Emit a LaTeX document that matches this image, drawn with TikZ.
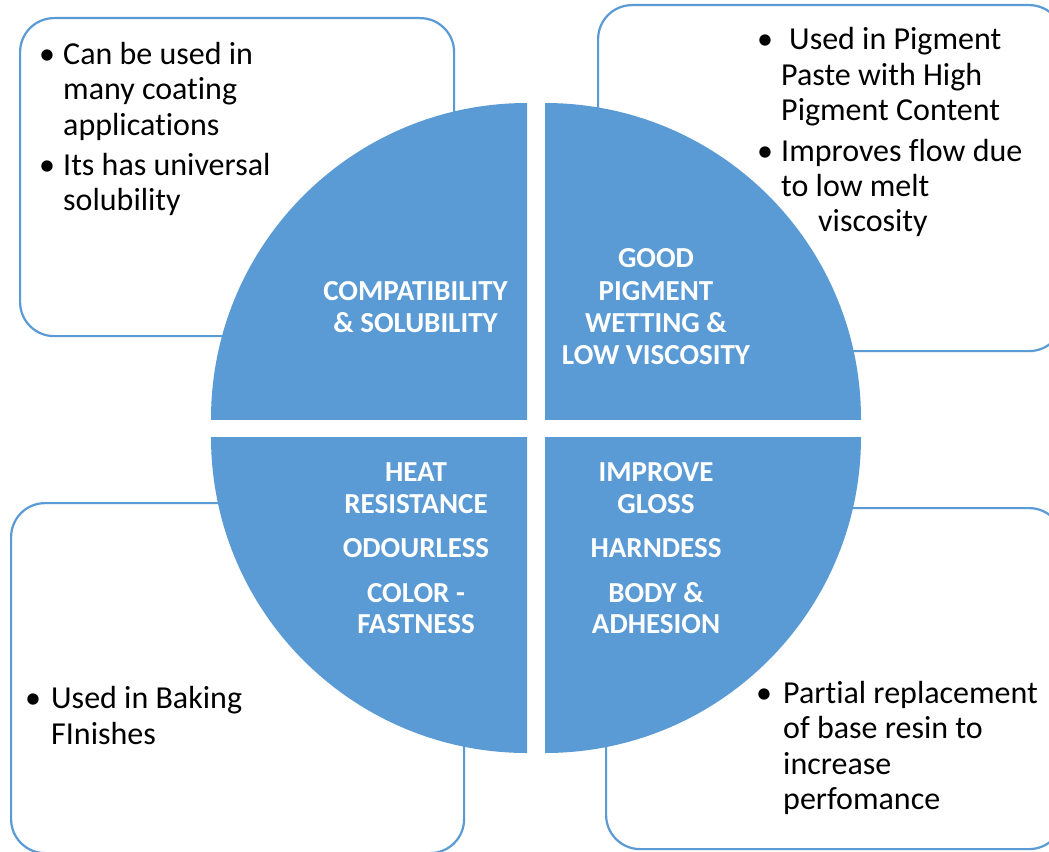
\documentclass[tikz,border=0pt]{standalone}
\usepackage{fontspec}
\setmainfont[Ligatures=NoCommon]{Carlito}
\definecolor{accent}{HTML}{5B9BD5}
\tikzset{
  box/.style={draw=accent, line width=2.2pt, fill=white, rounded corners=34pt, inner sep=0pt, anchor=north west},
  body/.style={font=\fontsize{32}{35}\selectfont, anchor=base west, inner sep=0pt, text=black},
  bul/.style={font=\fontsize{32}{35}\selectfont, anchor=base, inner sep=0pt, text=black},
  lab/.style={font=\bfseries\fontsize{29}{32}\selectfont, text=white, anchor=base, inner sep=0pt},
  quad/.style={fill=accent}
}
\begin{document}
\begin{tikzpicture}[x=1pt,y=-1pt]
\useasboundingbox (0,0) rectangle (1049,851);
\clip (0,0) rectangle (1049,851);
\fill[white] (0,0) rectangle (1049,851);

% outer boxes
\node[box, minimum width=434pt, minimum height=318pt] (boxTL) at (19,17) {};
\node[box, minimum width=465pt, minimum height=346pt] (boxTR) at (597,4) {};
\node[box, minimum width=453pt, minimum height=350pt] (boxBL) at (10,502) {};
\node[box, minimum width=457pt, minimum height=341pt] (boxBR) at (605,507) {};

% quadrants of the circle
\begin{scope}\clip (211,103) rectangle (527,419); \fill[quad] (527,419) circle[radius=316pt]; \end{scope}
\begin{scope}\clip (545,103) rectangle (861,419); \fill[quad] (545,419) circle[radius=316pt]; \end{scope}
\begin{scope}\clip (211,437) rectangle (527,753); \fill[quad] (527,437) circle[radius=316pt]; \end{scope}
\begin{scope}\clip (545,437) rectangle (861,753); \fill[quad] (545,437) circle[radius=316pt]; \end{scope}

% quadrant labels
\foreach \t/\y [count=\i] in {COMPATIBILITY/300, \& SOLUBILITY/332}
  \node[lab] (qtl\i) at (415.5,\y) {\t};
\foreach \t/\y [count=\i] in {GOOD/267, PIGMENT/300, WETTING \&/332, LOW VISCOSITY/364}
  \node[lab] (qtr\i) at (656,\y) {\t};
\foreach \t/\y [count=\i] in {HEAT/481, RESISTANCE/513, ODOURLESS/557, COLOR -/602, FASTNESS/633}
  \node[lab] (qbl\i) at (416,\y) {\t};
\foreach \t/\y [count=\i] in {IMPROVE/481, GLOSS/513, HARNDESS/557, BODY \&/602, ADHESION/633}
  \node[lab] (qbr\i) at (656,\y) {\t};

% top-left box text
\node[bul] (btl1) at (47,64) {•};
\node[bul] (btl2) at (47,175) {•};
\foreach \t/\y [count=\i] in {Can be used in/64, many coating/99.5, applications/135, Its has universal/175, solubility/210.5}
  \node[body] (ttl\i) at (63,\y) {\t};

% top-right box text
\node[bul] (btr1) at (765,50) {•};
\node[bul] (btr2) at (765,161.7) {•};
\node[body] (ttr1) at (789,50) {Used in Pigment};
\foreach \t/\y [count=\i] in {Paste with High/85, Pigment Content/120, Improves flow due/161.7, to low melt/196.7}
  \node[body] (ttrb\i) at (781,\y) {\t};
\node[body] (ttr6) at (818,231.7) {viscosity};

% bottom-left box text
\node[bul] (bbl1) at (33,708) {•};
\node[body] (tbl1) at (51,708) {Used in Baking};
\node[body] (tbl2) at (51,744) {FInishes};

% bottom-right box text
\node[bul] (bbr1) at (764,703) {•};
\foreach \t/\y [count=\i] in {Partial replacement/703, of base resin to/738.5, increase/774, perfomance/809}
  \node[body] (tbr\i) at (783,\y) {\t};
\end{tikzpicture}
\end{document}
